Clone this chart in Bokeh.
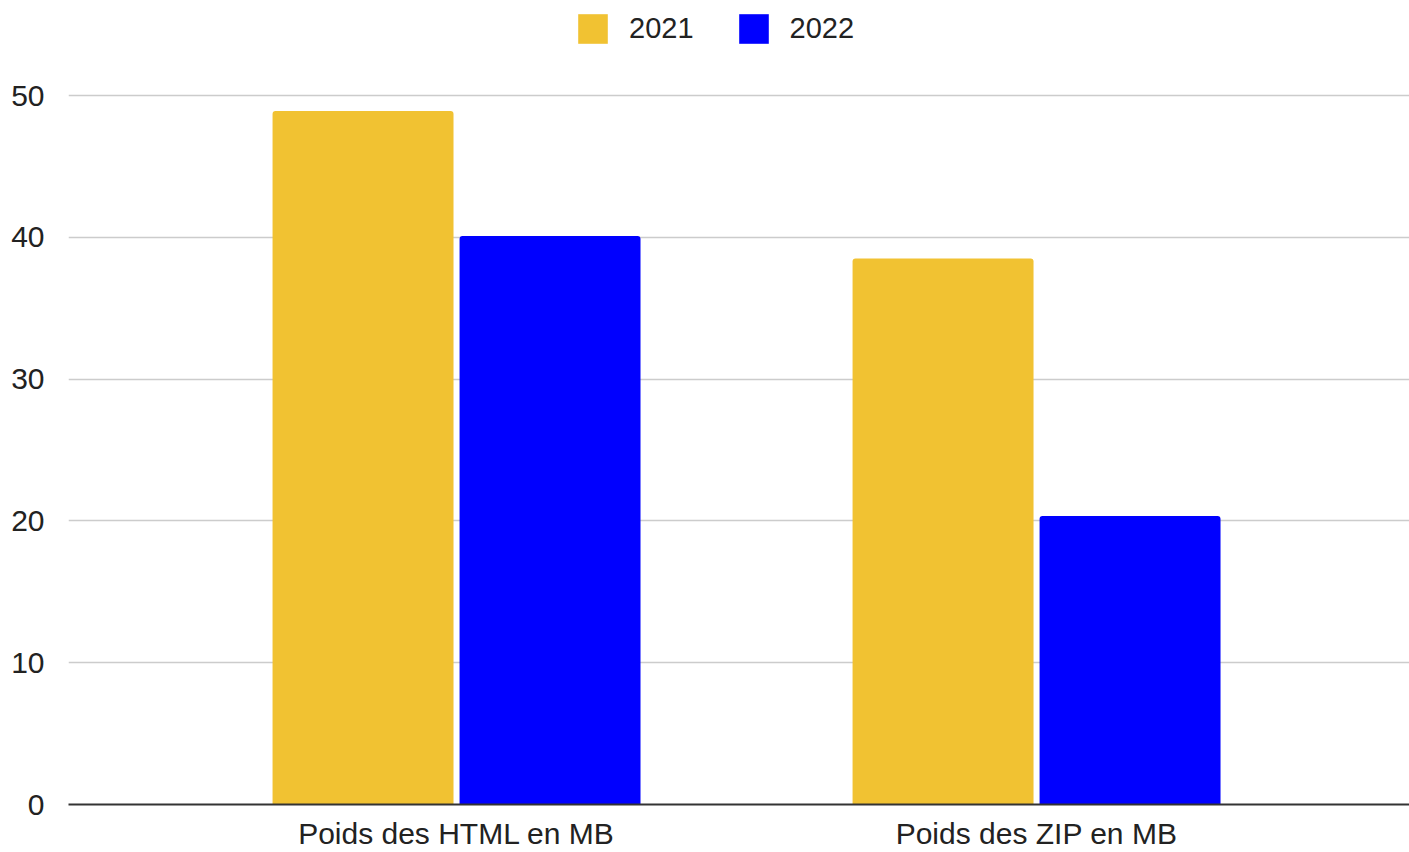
from bokeh.plotting import figure
from bokeh.models import Range1d, FixedTicker, ColumnDataSource, Legend, LegendItem
from bokeh.transform import dodge
from bokeh.embed import file_html
from bokeh.resources import INLINE

categories = ["Poids des HTML en MB", "Poids des ZIP en MB"]
years = ["2021", "2022"]
values_2021 = [48.9, 38.5]
values_2022 = [40.1, 20.35]
y_ticks = [0, 10, 20, 30, 40, 50]

colors = {"2021": "#F1C232", "2022": "#0000FF"}
FONT = "Liberation Sans"

xpos = [i + 0.5 for i in range(len(categories))]
source = ColumnDataSource(dict(x=xpos, cat=categories, v2021=values_2021, v2022=values_2022))

p = figure(width=1409, height=852, output_backend="svg", toolbar_location=None,
           x_range=Range1d(-0.169, 2.143), y_range=Range1d(0, 56.7),
           min_border_left=68, min_border_right=0, min_border_top=0, min_border_bottom=0)
p.outline_line_color = None
p.background_fill_color = "white"
p.border_fill_color = "white"

r1 = p.vbar(x=dodge("x", -0.1612, range=p.x_range), top="v2021", width=0.312, source=source,
            fill_color=colors["2021"], line_color=None, border_radius=(3, 3, 0, 0))
r2 = p.vbar(x=dodge("x", 0.1612, range=p.x_range), top="v2022", width=0.312, source=source,
            fill_color=colors["2022"], line_color=None, border_radius=(3, 3, 0, 0))

# axes
p.xaxis.ticker = FixedTicker(ticks=xpos)
p.xaxis.major_label_overrides = {x: c for x, c in zip(xpos, categories)}
p.xaxis.major_tick_line_color = None
p.xaxis.minor_tick_line_color = None
p.xaxis.axis_line_color = "#333333"
p.xaxis.axis_line_width = 2
p.xaxis.major_label_text_font = FONT
p.xaxis.major_label_text_font_size = "30px"
p.xaxis.major_label_text_color = "#222222"
p.xaxis.major_label_standoff = 6

p.yaxis.ticker = FixedTicker(ticks=y_ticks)
p.yaxis.major_tick_line_color = None
p.yaxis.minor_tick_line_color = None
p.yaxis.axis_line_color = None
p.yaxis.major_label_text_font = FONT
p.yaxis.major_label_text_font_size = "30px"
p.yaxis.major_label_text_color = "#222222"
p.yaxis.major_label_standoff = 18

p.xgrid.grid_line_color = None
p.ygrid.ticker = FixedTicker(ticks=y_ticks[1:])
p.ygrid.grid_line_color = "#cccccc"
p.ygrid.grid_line_width = 1.5

legend = Legend(items=[LegendItem(label=years[0], renderers=[r1]),
                       LegendItem(label=years[1], renderers=[r2])],
                orientation="horizontal", location=(506, 757),
                padding=0, margin=0, spacing=41, label_standoff=18,
                glyph_width=37, glyph_height=37,
                label_text_font=FONT, label_text_font_size="29px",
                label_text_color="#222222",
                border_line_color=None, background_fill_alpha=0)
p.add_layout(legend, "center")

open("out.html", "w").write(file_html(p, INLINE))
